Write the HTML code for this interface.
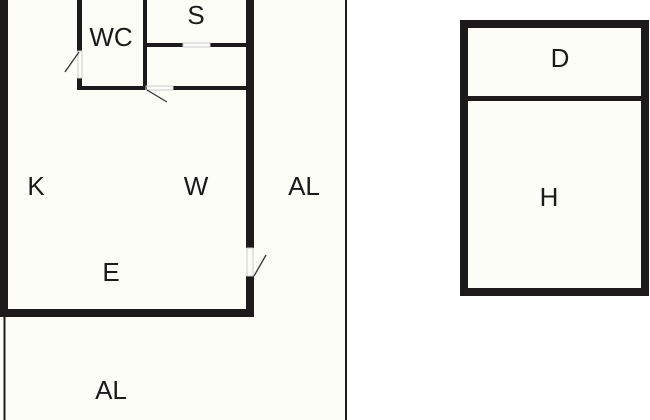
<!DOCTYPE html>
<html><head><style>
html,body{margin:0;padding:0;background:#fff;}
svg{display:block;}
text{font-family:"Liberation Sans",sans-serif;font-size:26px;fill:#1a1a1a;text-anchor:middle;}
</style></head><body>
<svg width="650" height="420" viewBox="0 0 650 420" xmlns="http://www.w3.org/2000/svg">
<rect x="0" y="0" width="347" height="420" fill="#fdfdf8"/>
<rect x="464" y="24" width="181" height="268" fill="#fdfdf8"/>
<g fill="#1c1a1a">
<rect x="0" y="0" width="8" height="316"/>
<rect x="0" y="309" width="254" height="8"/>
<rect x="246" y="0" width="8" height="248"/>
<rect x="246" y="276" width="8" height="41"/>
<rect x="77" y="0" width="5" height="51"/>
<rect x="77" y="78" width="5" height="12"/>
<rect x="77" y="86" width="69" height="4"/>
<rect x="173" y="86" width="75" height="4"/>
<rect x="143" y="0" width="4" height="90"/>
<rect x="145" y="43" width="38" height="4"/>
<rect x="210" y="43" width="38" height="4"/>
<rect x="460" y="20" width="189" height="8"/>
<rect x="460" y="20" width="8" height="276"/>
<rect x="641" y="20" width="8" height="276"/>
<rect x="460" y="288" width="189" height="8"/>
<rect x="464" y="96" width="181" height="5"/>
</g>
<line x1="4.5" y1="316" x2="4.5" y2="420" stroke="#1c1a1a" stroke-width="2"/>
<line x1="346" y1="0" x2="346" y2="420" stroke="#1c1a1a" stroke-width="2"/>
<g stroke="#ccc" stroke-width="1" fill="none">
<rect x="78" y="51" width="4" height="27"/>
<rect x="146" y="86" width="27" height="4"/>
<rect x="183" y="43" width="27" height="4"/>
<rect x="247" y="248" width="6" height="28"/>
</g>
<g stroke="#333" stroke-width="1.3">
<line x1="79" y1="52" x2="65" y2="72"/>
<line x1="147" y1="90" x2="167" y2="102"/>
<line x1="254" y1="276" x2="266" y2="255"/>
</g>
<text x="111" y="46">WC</text>
<text x="196" y="24">S</text>
<text x="36" y="195">K</text>
<text x="196" y="195">W</text>
<text x="304" y="195">AL</text>
<text x="111" y="281">E</text>
<text x="111" y="399">AL</text>
<text x="560" y="67">D</text>
<text x="549" y="206">H</text>
</svg>
</body></html>
